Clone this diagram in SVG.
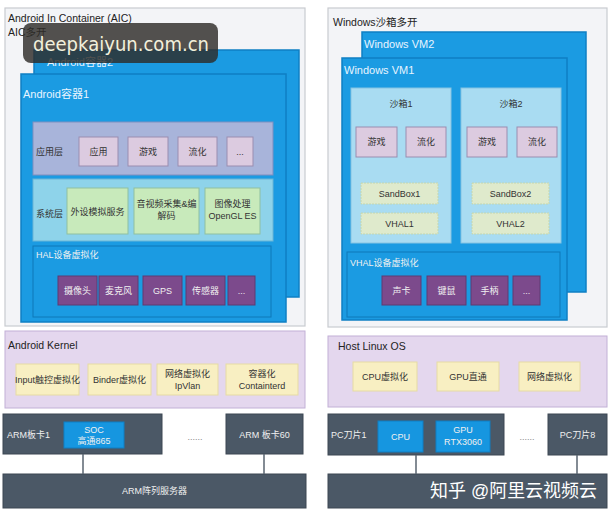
<svg xmlns="http://www.w3.org/2000/svg" width="613" height="520" viewBox="0 0 613 520">
<style>
text{font-family:"Liberation Sans","Noto Sans CJK SC",sans-serif;}
.outer{fill:#f3f4f7;stroke:#c9cbd0;stroke-width:1.2}
.blue{fill:#1b9be2;stroke:#0f7fc4;stroke-width:1.5}
.app{fill:#a8b4da;stroke:#7f8fc0;stroke-width:1}
.sys{fill:#8ed3ea;stroke:#6bb6d6;stroke-width:1}
.hal{fill:#1b9be2;stroke:#0f79b8;stroke-width:1}
.pink{fill:#dccbe0;stroke:#9a8db0;stroke-width:1}
.green{fill:#c8eabb;stroke:#8fc0a0;stroke-width:1}
.purple{fill:#7c4a8c;stroke:#5e3a72;stroke-width:1}
.sand{fill:#a9dcf2;stroke:#86c4e2;stroke-width:1}
.pale{fill:#dfeacc;stroke:#c3d6b0;stroke-width:1;stroke-dasharray:2 1}
.kern{fill:#e4d7ee;stroke:#c2b0d6;stroke-width:1}
.yel{fill:#f8efc2;stroke:#e6dba4;stroke-width:1}
.slate{fill:#4b5866;stroke:#3c4753;stroke-width:1}
.chip{fill:#1696e0;stroke:#0f7fc4;stroke-width:1}
.t{font-size:10.5px;fill:#222}
.tw{font-size:11px;fill:#e8f4ff}
.s{font-size:9px;fill:#333;text-anchor:middle}
.sl{font-size:9px;fill:#333}
.sw{font-size:9px;fill:#f0f0f0;text-anchor:middle}
.swl{font-size:9px;fill:#f0f0f0}
.conn{stroke:#5a6570;stroke-width:1.5;fill:none}
</style>

<!-- LEFT: AIC -->
<g id="aic">
<rect class="outer" x="5" y="8" width="300" height="318"/>
<text class="t" x="8" y="22">Android In Container (AIC)</text>
<text class="t" x="8" y="36">AIC多开</text>
</g>
<g id="android2">
<rect class="blue" x="34" y="50" width="265" height="247"/>
<text class="tw" x="47" y="66">Android容器2</text>
</g>
<g id="android1">
<rect class="blue" x="21" y="74" width="265" height="248"/>
<text class="tw" x="23" y="98">Android容器1</text>
</g>
<g id="applayer">
<rect class="app" x="33" y="122" width="240" height="53"/>
<text class="sl" x="36" y="155">应用层</text>
</g>
<g id="app1"><rect class="pink" x="79" y="137" width="39" height="29"/><text class="s" x="98.5" y="155">应用</text></g>
<g id="app2"><rect class="pink" x="128" y="137" width="40" height="29"/><text class="s" x="148" y="155">游戏</text></g>
<g id="app3"><rect class="pink" x="178" y="137" width="39" height="29"/><text class="s" x="197.5" y="155">流化</text></g>
<g id="app4"><rect class="pink" x="227" y="137" width="26" height="29"/><text class="s" x="240" y="155">...</text></g>

<g id="syslayer">
<rect class="sys" x="33" y="179" width="240" height="62"/>
<text class="sl" x="36" y="217">系统层</text>
</g>
<g id="sys1"><rect class="green" x="67" y="188" width="61" height="46"/><text class="s" x="97.5" y="215">外设模拟服务</text></g>
<g id="sys2"><rect class="green" x="134" y="188" width="65" height="46"/><text class="s" x="166.5" y="207">音视频采集&amp;编</text><text class="s" x="166.5" y="219">解码</text></g>
<g id="sys3"><rect class="green" x="205" y="188" width="55" height="46"/><text class="s" x="232.5" y="207">图像处理</text><text class="s" x="232.5" y="219">OpenGL ES</text></g>

<g id="hal">
<rect class="hal" x="33" y="246" width="238" height="71"/>
<text class="swl" x="36" y="258">HAL设备虚拟化</text>
</g>
<g id="hal1"><rect class="purple" x="58" y="276" width="39" height="29"/><text class="sw" x="77.5" y="294">摄像头</text></g>
<g id="hal2"><rect class="purple" x="99" y="276" width="39" height="29"/><text class="sw" x="118.5" y="294">麦克风</text></g>
<g id="hal3"><rect class="purple" x="143" y="276" width="39" height="29"/><text class="sw" x="162.5" y="294">GPS</text></g>
<g id="hal4"><rect class="purple" x="186" y="276" width="39" height="29"/><text class="sw" x="205.5" y="294">传感器</text></g>
<g id="hal5"><rect class="purple" x="228" y="276" width="27" height="29"/><text class="sw" x="241.5" y="294">...</text></g>

<!-- RIGHT: Windows -->
<g id="win">
<rect class="outer" x="328" y="8" width="279" height="319"/>
<text class="t" x="333" y="26">Windows沙箱多开</text>
</g>
<g id="vm2">
<rect class="blue" x="362" y="32" width="224" height="260"/>
<text class="tw" x="364" y="48">Windows VM2</text>
</g>
<g id="vm1">
<rect class="blue" x="342" y="58" width="225" height="262"/>
<text class="tw" x="344" y="74">Windows VM1</text>
</g>
<g id="sandbox1">
<rect class="sand" x="351" y="88" width="100" height="155"/>
<text class="s" x="401" y="107">沙箱1</text>
</g>
<g id="sb1a"><rect class="pink" x="356" y="127" width="41" height="30"/><text class="s" x="376.5" y="145">游戏</text></g>
<g id="sb1b"><rect class="pink" x="406" y="127" width="40" height="30"/><text class="s" x="426" y="145">流化</text></g>
<g id="sb1c"><rect class="pale" x="361" y="183" width="77" height="21"/><text class="s" x="399.5" y="197">SandBox1</text></g>
<g id="sb1d"><rect class="pale" x="361" y="213" width="77" height="21"/><text class="s" x="399.5" y="227">VHAL1</text></g>
<g id="sandbox2">
<rect class="sand" x="461" y="88" width="100" height="155"/>
<text class="s" x="511" y="107">沙箱2</text>
</g>
<g id="sb2a"><rect class="pink" x="467" y="127" width="40" height="30"/><text class="s" x="487" y="145">游戏</text></g>
<g id="sb2b"><rect class="pink" x="517" y="127" width="40" height="30"/><text class="s" x="537" y="145">流化</text></g>
<g id="sb2c"><rect class="pale" x="472" y="183" width="77" height="21"/><text class="s" x="510.5" y="197">SandBox2</text></g>
<g id="sb2d"><rect class="pale" x="472" y="213" width="77" height="21"/><text class="s" x="510.5" y="227">VHAL2</text></g>
<g id="vhal">
<rect class="hal" x="347" y="252" width="213" height="65"/>
<text class="swl" x="350" y="266">VHAL设备虚拟化</text>
</g>
<g id="vh1"><rect class="purple" x="382" y="276" width="39" height="29"/><text class="sw" x="401.5" y="294">声卡</text></g>
<g id="vh2"><rect class="purple" x="427" y="276" width="39" height="29"/><text class="sw" x="446.5" y="294">键鼠</text></g>
<g id="vh3"><rect class="purple" x="471" y="276" width="37" height="29"/><text class="sw" x="489.5" y="294">手柄</text></g>
<g id="vh4"><rect class="purple" x="513" y="276" width="27" height="29"/><text class="sw" x="526.5" y="294">...</text></g>

<!-- Kernel -->
<g id="kernel">
<rect class="kern" x="5" y="331" width="300" height="77"/>
<text class="t" x="8" y="349">Android Kernel</text>
</g>
<g id="k1"><rect class="yel" x="16" y="364" width="63" height="31"/><text class="s" x="47.5" y="383">Input触控虚拟化</text></g>
<g id="k2"><rect class="yel" x="88" y="364" width="63" height="31"/><text class="s" x="119.5" y="383">Binder虚拟化</text></g>
<g id="k3"><rect class="yel" x="157" y="364" width="61" height="31"/><text class="s" x="187.5" y="377">网络虚拟化</text><text class="s" x="187.5" y="389">IpVlan</text></g>
<g id="k4"><rect class="yel" x="226" y="364" width="72" height="31"/><text class="s" x="262" y="377">容器化</text><text class="s" x="262" y="389">Containterd</text></g>

<g id="host">
<rect class="kern" x="328" y="336" width="279" height="71"/>
<text class="t" x="338" y="350">Host Linux OS</text>
</g>
<g id="h1"><rect class="yel" x="353" y="362" width="64" height="29"/><text class="s" x="385" y="380">CPU虚拟化</text></g>
<g id="h2"><rect class="yel" x="437" y="362" width="62" height="29"/><text class="s" x="468" y="380">GPU直通</text></g>
<g id="h3"><rect class="yel" x="519" y="362" width="61" height="29"/><text class="s" x="549.5" y="380">网络虚拟化</text></g>

<!-- hardware -->
<g id="arm1">
<rect class="slate" x="3" y="414" width="159" height="40"/>
<text class="swl" x="7" y="438">ARM板卡1</text>
<rect class="chip" x="64" y="422" width="60" height="26"/>
<text class="sw" x="94" y="433">SOC</text>
<text class="sw" x="94" y="444">高通865</text>
</g>
<g id="armdots"><text class="s" x="195" y="440" style="fill:#888">......</text></g>
<g id="arm60">
<rect class="slate" x="226" y="414" width="77" height="40"/>
<text class="sw" x="264.5" y="438">ARM 板卡60</text>
</g>
<g id="armsrv">
<rect class="slate" x="3" y="474" width="303" height="34"/>
<text class="sw" x="154.5" y="494">ARM阵列服务器</text>
</g>

<g id="pc1">
<rect class="slate" x="328" y="414" width="176" height="41"/>
<text class="swl" x="331" y="438">PC刀片1</text>
<rect class="chip" x="378" y="421" width="45" height="31"/>
<text class="sw" x="400.5" y="440">CPU</text>
<rect class="chip" x="436" y="421" width="54" height="31"/>
<text class="sw" x="463" y="433">GPU</text>
<text class="sw" x="463" y="445">RTX3060</text>
</g>
<g id="pcdots"><text class="s" x="527" y="440" style="fill:#888">......</text></g>
<g id="pc8">
<rect class="slate" x="548" y="414" width="59" height="41"/>
<text class="sw" x="577.5" y="438">PC刀片8</text>
</g>
<g id="pcsrv">
<rect class="slate" x="328" y="474" width="279" height="34"/>
</g>

<g id="connectors">
<line class="conn" x1="83" y1="454" x2="83" y2="474"/>
<line class="conn" x1="264" y1="454" x2="264" y2="474"/>
<line class="conn" x1="416" y1="455" x2="416" y2="474"/>
<line class="conn" x1="577" y1="455" x2="577" y2="474"/>
</g>

<!-- watermarks -->
<g id="wm1">
<rect x="23" y="23" width="195" height="40" rx="8" fill="#2e2c28" fill-opacity="0.82"/>
<text x="33" y="51" textLength="176" lengthAdjust="spacingAndGlyphs" style="font-family:'DejaVu Sans',sans-serif;font-size:19px;fill:#f2f0dc">deepkaiyun.com.cn</text>
</g>
<g id="wm2">
<text x="430" y="497" textLength="167" lengthAdjust="spacingAndGlyphs" style="font-size:18px;fill:#ffffff">知乎 @阿里云视频云</text>
</g>
</svg>
